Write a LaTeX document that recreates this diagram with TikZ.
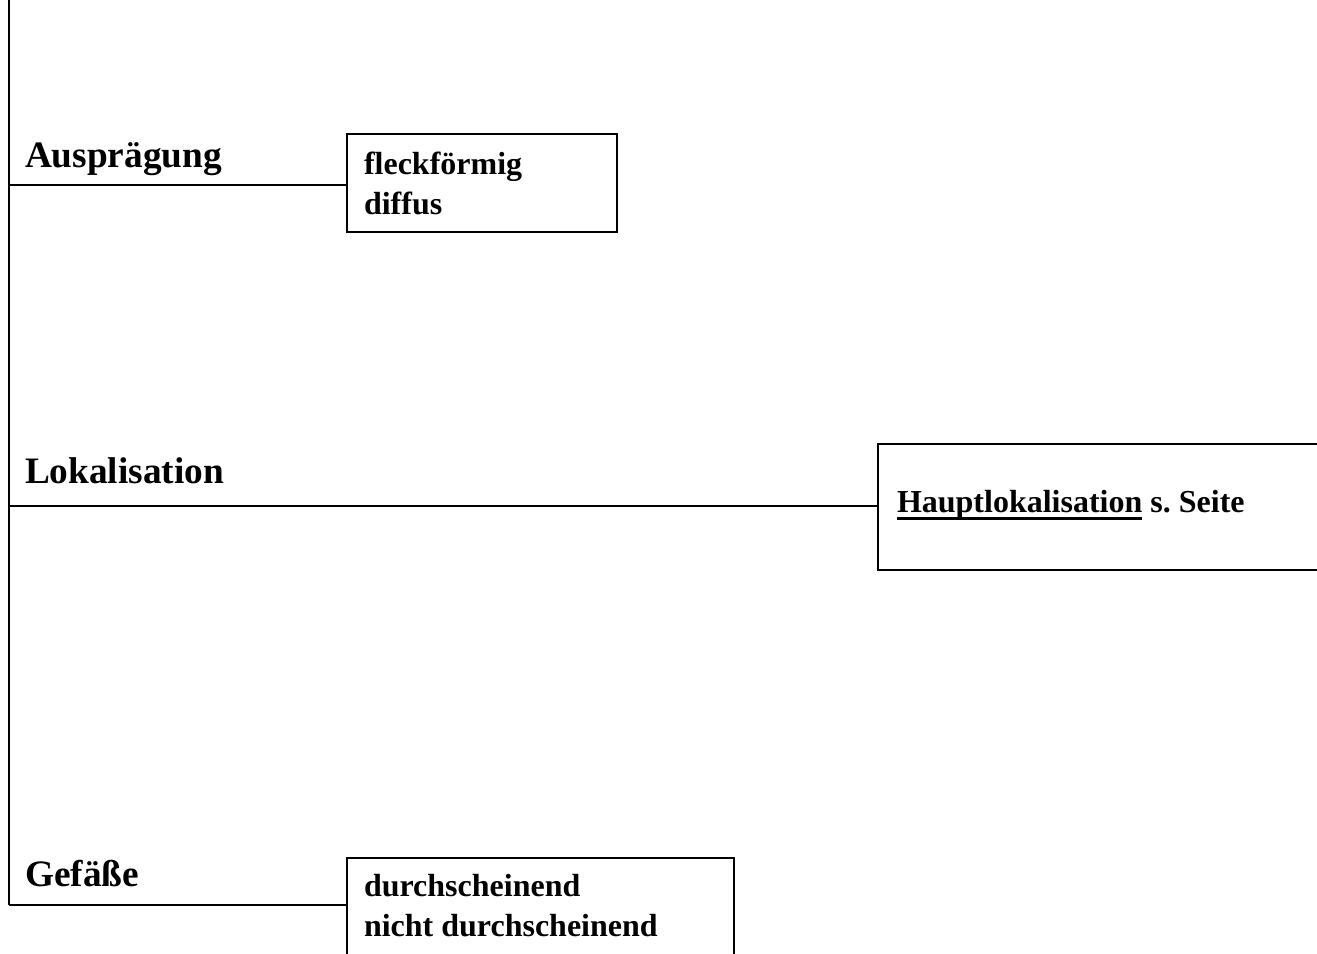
\documentclass[tikz,border=0pt]{standalone}
\usepackage{fontspec}
\setmainfont{Liberation Serif}
\frenchspacing
\newcommand\myul[1]{\setbox0\hbox{#1}\rlap{\vrule width\wd0 height -5pt depth 8pt}\box0\relax}
\begin{document}
\begin{tikzpicture}[x=1pt,y=-1pt,line width=2pt,
  lbl/.style={font=\fontsize{37.3}{40}\selectfont\bfseries,anchor=base west,inner sep=0},
  boxtxt/.style={font=\fontsize{32}{40}\selectfont\bfseries,anchor=base west,inner sep=0,align=left},
  frame/.style={draw,rectangle,inner sep=0,anchor=north west}]
\useasboundingbox (0,0) rectangle (1317,953);
\clip (0,0) rectangle (1317,953);
\coordinate (top) at (9,-3);
\coordinate (bot) at (9,905);
\draw (top) -- (bot);
% boxes
\node[frame,minimum width=270pt,minimum height=98pt] (b1) at (346,133) {};
\node[frame,minimum width=460pt,minimum height=126pt] (b2) at (877,443) {};
\node[frame,minimum width=387pt,minimum height=130pt] (b3) at (346,857) {};
% branch points
\coordinate (j1) at (9,185);
\coordinate (j2) at (9,506);
\draw (j1) -- (j1 -| b1.west);
\draw (j2) -- (j2 -| b2.west);
\draw (bot) -- (bot -| b3.west);
% labels
\node[lbl] (l1) at (24,167) {Ausprägung};
\node[lbl] (l2) at (24,483) {Lokalisation};
\node[lbl] (l3) at (24,886) {Gefäße};
% box texts
\node[boxtxt] (t1) at (363,214) {fleckförmig\\diffus};
\node[boxtxt] (t2) at (896,512) {\myul{Hauptlokalisation} s. Seite};
\node[boxtxt] (t3) at (363,936) {durchscheinend\\nicht durchscheinend};
\end{tikzpicture}
\end{document}
